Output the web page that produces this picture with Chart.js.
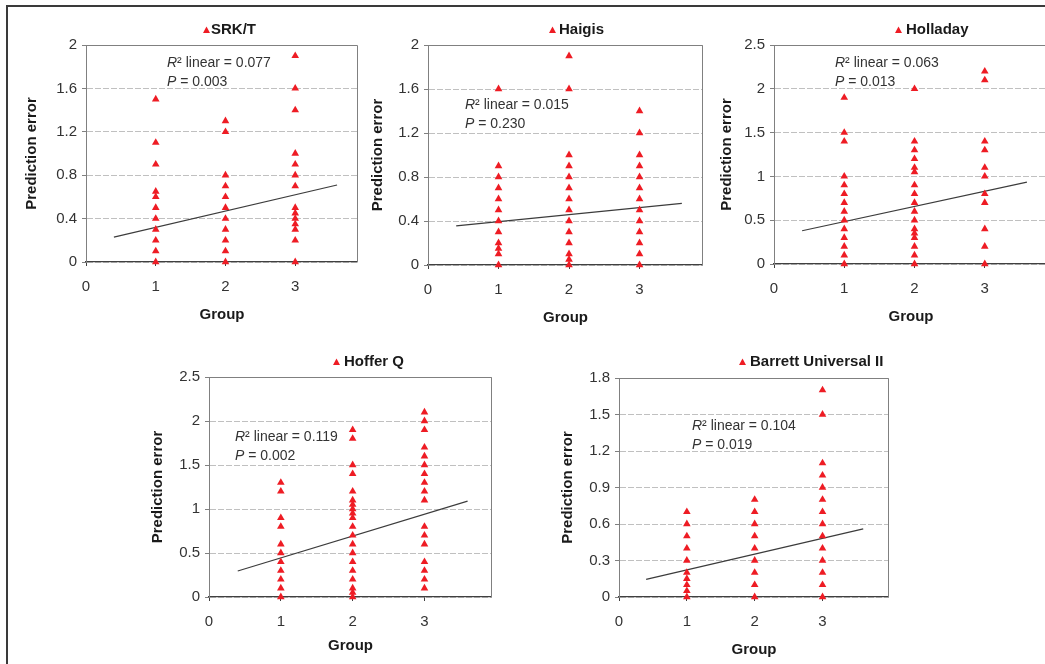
<!DOCTYPE html>
<html>
<head>
<meta charset="utf-8">
<script src="https://cdn.jsdelivr.net/npm/chart.js@4.4.1/dist/chart.umd.min.js"></script>
<style>
  body { margin: 0; background: #fff; width: 1045px; height: 664px; overflow: hidden; position: relative; }
  .frame { position: absolute; left: 6px; top: 5px; width: 1100px; height: 700px; border-left: 2px solid #3a3a3a; border-top: 2px solid #3a3a3a; }
  canvas { position: absolute; }
</style>
</head>
<body>
<div class="frame"></div>
<canvas id="c1"></canvas>
<canvas id="c2"></canvas>
<canvas id="c3"></canvas>
<canvas id="c4"></canvas>
<canvas id="c5"></canvas>
<script>
// Gruppen auf der x-Achse
const groupTicks = [0, 1, 2, 3];

// Vorhersagefehler je Formel, jeweils Gruppe 1, 2, 3
const srkt = [
  [1.5, 1.1, 0.9, 0.65, 0.6, 0.5, 0.4, 0.3, 0.2, 0.1, 0],
  [1.3, 1.2, 0.8, 0.7, 0.6, 0.5, 0.4, 0.3, 0.2, 0.1, 0],
  [1.9, 1.6, 1.4, 1.0, 0.9, 0.8, 0.7, 0.5, 0.45, 0.4, 0.35, 0.3, 0.2, 0]
];
const haigis = [
  [1.6, 0.9, 0.8, 0.7, 0.6, 0.5, 0.4, 0.3, 0.2, 0.15, 0.1, 0],
  [1.9, 1.6, 1.0, 0.9, 0.8, 0.7, 0.6, 0.5, 0.4, 0.3, 0.2, 0.1, 0.05, 0],
  [1.4, 1.2, 1.0, 0.9, 0.8, 0.7, 0.6, 0.5, 0.4, 0.3, 0.2, 0.1, 0]
];
const holladay = [
  [1.9, 1.5, 1.4, 1.0, 0.9, 0.8, 0.7, 0.6, 0.5, 0.4, 0.3, 0.2, 0.1, 0],
  [2.0, 1.4, 1.3, 1.2, 1.1, 1.05, 0.9, 0.8, 0.7, 0.6, 0.5, 0.4, 0.35, 0.3, 0.2, 0.1, 0],
  [2.2, 2.1, 1.4, 1.3, 1.1, 1.0, 0.8, 0.7, 0.4, 0.2, 0]
];
const hofferQ = [
  [1.3, 1.2, 0.9, 0.8, 0.6, 0.5, 0.4, 0.3, 0.2, 0.1, 0],
  [1.9, 1.8, 1.5, 1.4, 1.2, 1.1, 1.05, 1.0, 0.95, 0.9, 0.8, 0.7, 0.6, 0.5, 0.4, 0.3, 0.2, 0.1, 0.05, 0],
  [2.1, 2.0, 1.9, 1.7, 1.6, 1.5, 1.4, 1.3, 1.2, 1.1, 0.8, 0.7, 0.6, 0.4, 0.3, 0.2, 0.1]
];
const barrett = [
  [0.7, 0.6, 0.5, 0.4, 0.3, 0.2, 0.15, 0.1, 0.05, 0],
  [0.8, 0.7, 0.6, 0.5, 0.4, 0.3, 0.2, 0.1, 0],
  [1.7, 1.5, 1.1, 1.0, 0.9, 0.8, 0.7, 0.6, 0.5, 0.4, 0.3, 0.2, 0.1, 0]
];

// Regressionsgeraden (Anfang und Ende)
const trendX = [0.4, 3.6];
const srktTrend = [0.23, 0.71];
const haigisTrend = [0.355, 0.56];
const holladayTrend = [0.38, 0.935];
const hofferTrend = [0.295, 1.09];
const barrettTrend = [0.145, 0.56];

// y-Achsen Ticks
const ticks2 = [0, 0.4, 0.8, 1.2, 1.6, 2];
const ticks25 = [0, 0.5, 1, 1.5, 2, 2.5];
const ticks18 = [0, 0.3, 0.6, 0.9, 1.2, 1.5, 1.8];

// Beschriftungen
const formulaNames = ['SRK/T', 'Haigis', 'Holladay', 'Hoffer Q', 'Barrett Universal II'];
const r2Values = ['0.077', '0.015', '0.063', '0.119', '0.104'];
const pValues = ['0.003', '0.230', '0.013', '0.002', '0.019'];

const RED = '#ee1c24';
const FONT = '"Liberation Sans", Arial, sans-serif';

// Rahmen, Legende und Statistik-Text je Panel
const panelDeco = {
  id: 'panelDeco',
  afterDraw(chart, args, opts) {
    const { ctx, chartArea: a } = chart;
    ctx.save();
    ctx.strokeStyle = '#808080';
    ctx.lineWidth = 1;
    ctx.beginPath();
    ctx.moveTo(a.left, a.top + 0.5);
    ctx.lineTo(a.right - 0.5, a.top + 0.5);
    ctx.lineTo(a.right - 0.5, a.bottom);
    ctx.stroke();

    // Legende
    const lx = a.left + opts.legendDx, ly = a.top + opts.legendDy;
    ctx.fillStyle = RED;
    ctx.beginPath();
    ctx.moveTo(lx + 3.5, ly - 3.5);
    ctx.lineTo(lx + 7, ly + 3);
    ctx.lineTo(lx, ly + 3);
    ctx.closePath();
    ctx.fill();
    ctx.fillStyle = '#1a1a1a';
    ctx.font = 'bold 15px ' + FONT;
    ctx.textBaseline = 'middle';
    ctx.textAlign = 'left';
    ctx.fillText(opts.label, lx + 7 + opts.legendGap, ly);

    // R² und P
    const tx = a.left + opts.noteDx, ty = a.top + opts.noteDy;
    ctx.fillStyle = '#333';
    ctx.font = 'italic 14px ' + FONT;
    ctx.fillText('R', tx, ty);
    let w = ctx.measureText('R').width;
    ctx.font = '14px ' + FONT;
    ctx.fillText('\u00b2 linear = ' + opts.r2, tx + w, ty);
    ctx.font = 'italic 14px ' + FONT;
    ctx.fillText('P', tx, ty + 19.5);
    w = ctx.measureText('P').width;
    ctx.font = '14px ' + FONT;
    ctx.fillText(' = ' + opts.p, tx + w, ty + 19.5);
    ctx.restore();
  }
};

function makePanel(id, box, groups, trend, yTicks, xMax, idx, deco) {
  const canvas = document.getElementById(id);
  canvas.width = box.w;
  canvas.height = box.h;
  canvas.style.left = box.left + 'px';
  canvas.style.top = box.top + 'px';

  const points = [];
  groups.forEach((vals, gi) => vals.forEach(v => points.push({ x: gi + 1, y: v })));

  return new Chart(canvas, {
    type: 'scatter',
    data: {
      datasets: [{
        label: formulaNames[idx],
        data: points,
        clip: false,
        pointStyle: 'triangle',
        pointRadius: 4.4,
        pointBackgroundColor: RED,
        pointBorderWidth: 0,
        borderColor: RED
      }, {
        label: 'Linear',
        data: trendX.map((x, i) => ({ x: x, y: trend[i] })),
        showLine: true,
        pointRadius: 0,
        borderColor: '#3c3c3c',
        borderWidth: 1.2
      }]
    },
    options: {
      responsive: false,
      animation: false,
      devicePixelRatio: 1,
      layout: { autoPadding: false, padding: { top: box.padTop, left: 0, right: 0, bottom: 0 } },
      plugins: {
        legend: { display: false },
        tooltip: { enabled: false },
        panelDeco: Object.assign({ label: formulaNames[idx], r2: r2Values[idx], p: pValues[idx] }, deco)
      },
      scales: {
        x: {
          type: 'linear',
          min: groupTicks[0],
          max: xMax,
          afterFit: s => { s.height = box.xH; s.paddingLeft = 0; s.paddingRight = 0; },
          ticks: {
            stepSize: 1,
            includeBounds: false,
            padding: 12,
            color: '#333',
            font: { family: FONT, size: 15 },
            maxRotation: 0
          },
          grid: { drawOnChartArea: false, tickLength: 4, tickColor: '#404040' },
          border: { color: '#404040', width: 1.3 },
          title: {
            display: true,
            text: 'Group',
            color: '#1a1a1a',
            padding: 0,
            font: { family: FONT, size: 15, weight: 'bold' }
          }
        },
        y: {
          min: yTicks[0],
          max: yTicks[yTicks.length - 1],
          afterFit: s => { s.width = box.yW; s.paddingTop = 0; s.paddingBottom = 0; },
          ticks: {
            stepSize: yTicks[1] - yTicks[0],
            padding: 5,
            color: '#333',
            font: { family: FONT, size: 15 },
            callback: v => String(Number(v.toFixed(2)))
          },
          grid: {
            color: '#c0c0c0',
            lineWidth: 1,
            tickLength: 4,
            tickColor: '#808080'
          },
          border: { color: '#808080', width: 1, dash: [6, 2] },
          title: {
            display: true,
            text: 'Prediction error',
            color: '#1a1a1a',
            padding: 0,
            font: { family: FONT, size: 15, weight: 'bold' }
          }
        }
      }
    },
    plugins: [panelDeco]
  });
}

makePanel('c1', { left: 23, top: 0, w: 335, h: 324, padTop: 45, yW: 63, xH: 62 },
  srkt, srktTrend, ticks2, 3.9, 0,
  { legendDx: 117, legendDy: -15, legendGap: 1, noteDx: 81, noteDy: 18 });
makePanel('c2', { left: 369, top: 0, w: 334, h: 327, padTop: 45, yW: 59, xH: 62 },
  haigis, haigisTrend, ticks2, 3.9, 1,
  { legendDx: 121, legendDy: -15, legendGap: 3, noteDx: 37, noteDy: 60 });
makePanel('c3', { left: 718, top: 0, w: 330, h: 326, padTop: 45, yW: 56, xH: 62 },
  holladay, holladayTrend, ticks25, 3.9, 2,
  { legendDx: 121, legendDy: -15, legendGap: 4, noteDx: 61, noteDy: 18 });
makePanel('c4', { left: 149, top: 335, w: 343, h: 320, padTop: 42, yW: 60, xH: 58 },
  hofferQ, hofferTrend, ticks25, 3.94, 3,
  { legendDx: 124, legendDy: -15, legendGap: 4, noteDx: 26, noteDy: 60 });
makePanel('c5', { left: 559, top: 335, w: 330, h: 324, padTop: 43, yW: 60, xH: 62 },
  barrett, barrettTrend, ticks18, 3.98, 4,
  { legendDx: 120, legendDy: -16, legendGap: 4, noteDx: 73, noteDy: 48 });
</script>
</body>
</html>
